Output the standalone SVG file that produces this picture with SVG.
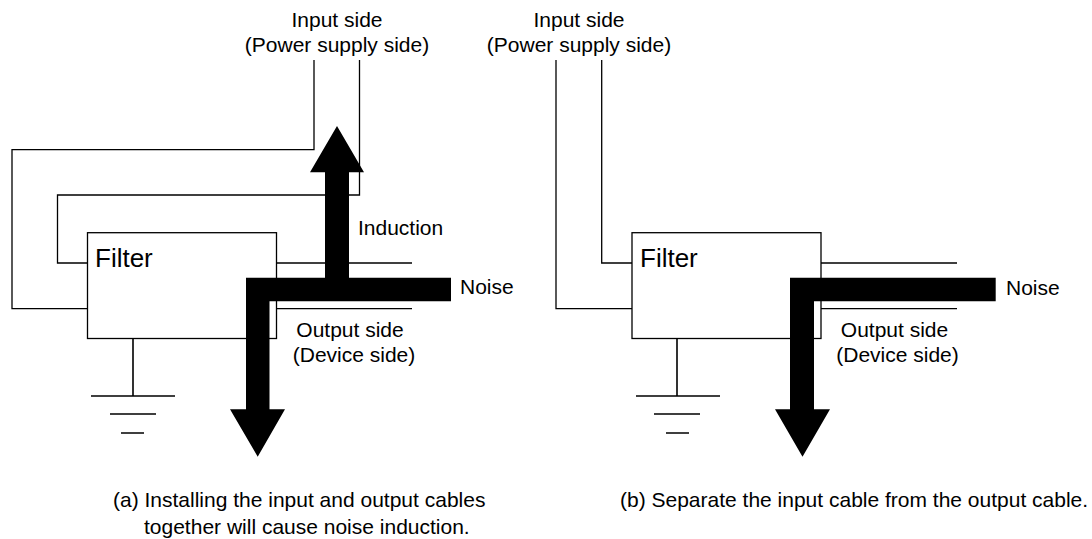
<svg xmlns="http://www.w3.org/2000/svg" width="1092" height="539" viewBox="0 0 1092 539">
<style>
.w{fill:none;stroke:#000;stroke-width:1.3}
.g{fill:none;stroke:#000;stroke-width:1.6}
.box{fill:#fff;stroke:#000;stroke-width:1.3}
.a{fill:#000;stroke:none}
text{font-family:"Liberation Sans",Arial,sans-serif;font-size:21px;fill:#000}
.m{text-anchor:middle}
.f{font-size:26px}
</style>
<rect width="1092" height="539" fill="#fff"/>
<g id="connectors">
<path class="w" d="M314 60V149.7H12V308.7H87.5"/>
<path class="w" d="M359.5 60V195H57.5V263H87.5"/>
<path class="w" d="M276.5 263H412M276.5 308.7H412"/>
<path class="w" d="M556 60V308.7H632"/>
<path class="w" d="M601.7 60V263H632"/>
<path class="w" d="M821 263H957M821 308.7H957"/>
</g>
<g id="filter-a">
<rect class="box" x="87.5" y="232.7" width="189" height="105.8"/>
<text class="f" x="95" y="267">Filter</text>
</g>
<g id="filter-b">
<rect class="box" x="632" y="232.7" width="189" height="105.8"/>
<text class="f" x="640" y="267">Filter</text>
</g>
<g id="ground-a">
<path class="g" d="M133 338.5V396M91 396H175M110 414H156M121 433H144"/>
</g>
<g id="ground-b">
<path class="g" d="M677 338.5V396M636 396H720M654 414H700M666 433H689"/>
</g>
<g id="noise-arrows">
<path class="a" d="M325 278V172.3H310L337 126L364 172.3H349V278Z"/>
<path class="a" d="M451 277.7V301.3H269.5V409.3H285L257.7 456.7L230 409.3H246V277.7Z"/>
<path class="a" d="M995.7 277.7V301.3H814V409.3H830L802.5 456.7L775 409.3H790V277.7Z"/>
</g>
<g id="labels">
<text class="m" x="337" y="27">Input side</text>
<text class="m" x="337" y="52">(Power supply side)</text>
<text class="m" x="579" y="27">Input side</text>
<text class="m" x="579" y="52">(Power supply side)</text>
<text x="358" y="235">Induction</text>
<text x="460" y="294">Noise</text>
<text x="1006" y="295">Noise</text>
<text class="m" x="350" y="337">Output side</text>
<text class="m" x="354" y="362">(Device side)</text>
<text class="m" x="894.500" y="337">Output side</text>
<text class="m" x="897.500" y="362">(Device side)</text>
<text x="113" y="507">(a) Installing the input and output cables</text>
<text x="144" y="533.500">together will cause noise induction.</text>
<text x="620" y="507">(b) Separate the input cable from the output cable.</text>
</g>
</svg>
